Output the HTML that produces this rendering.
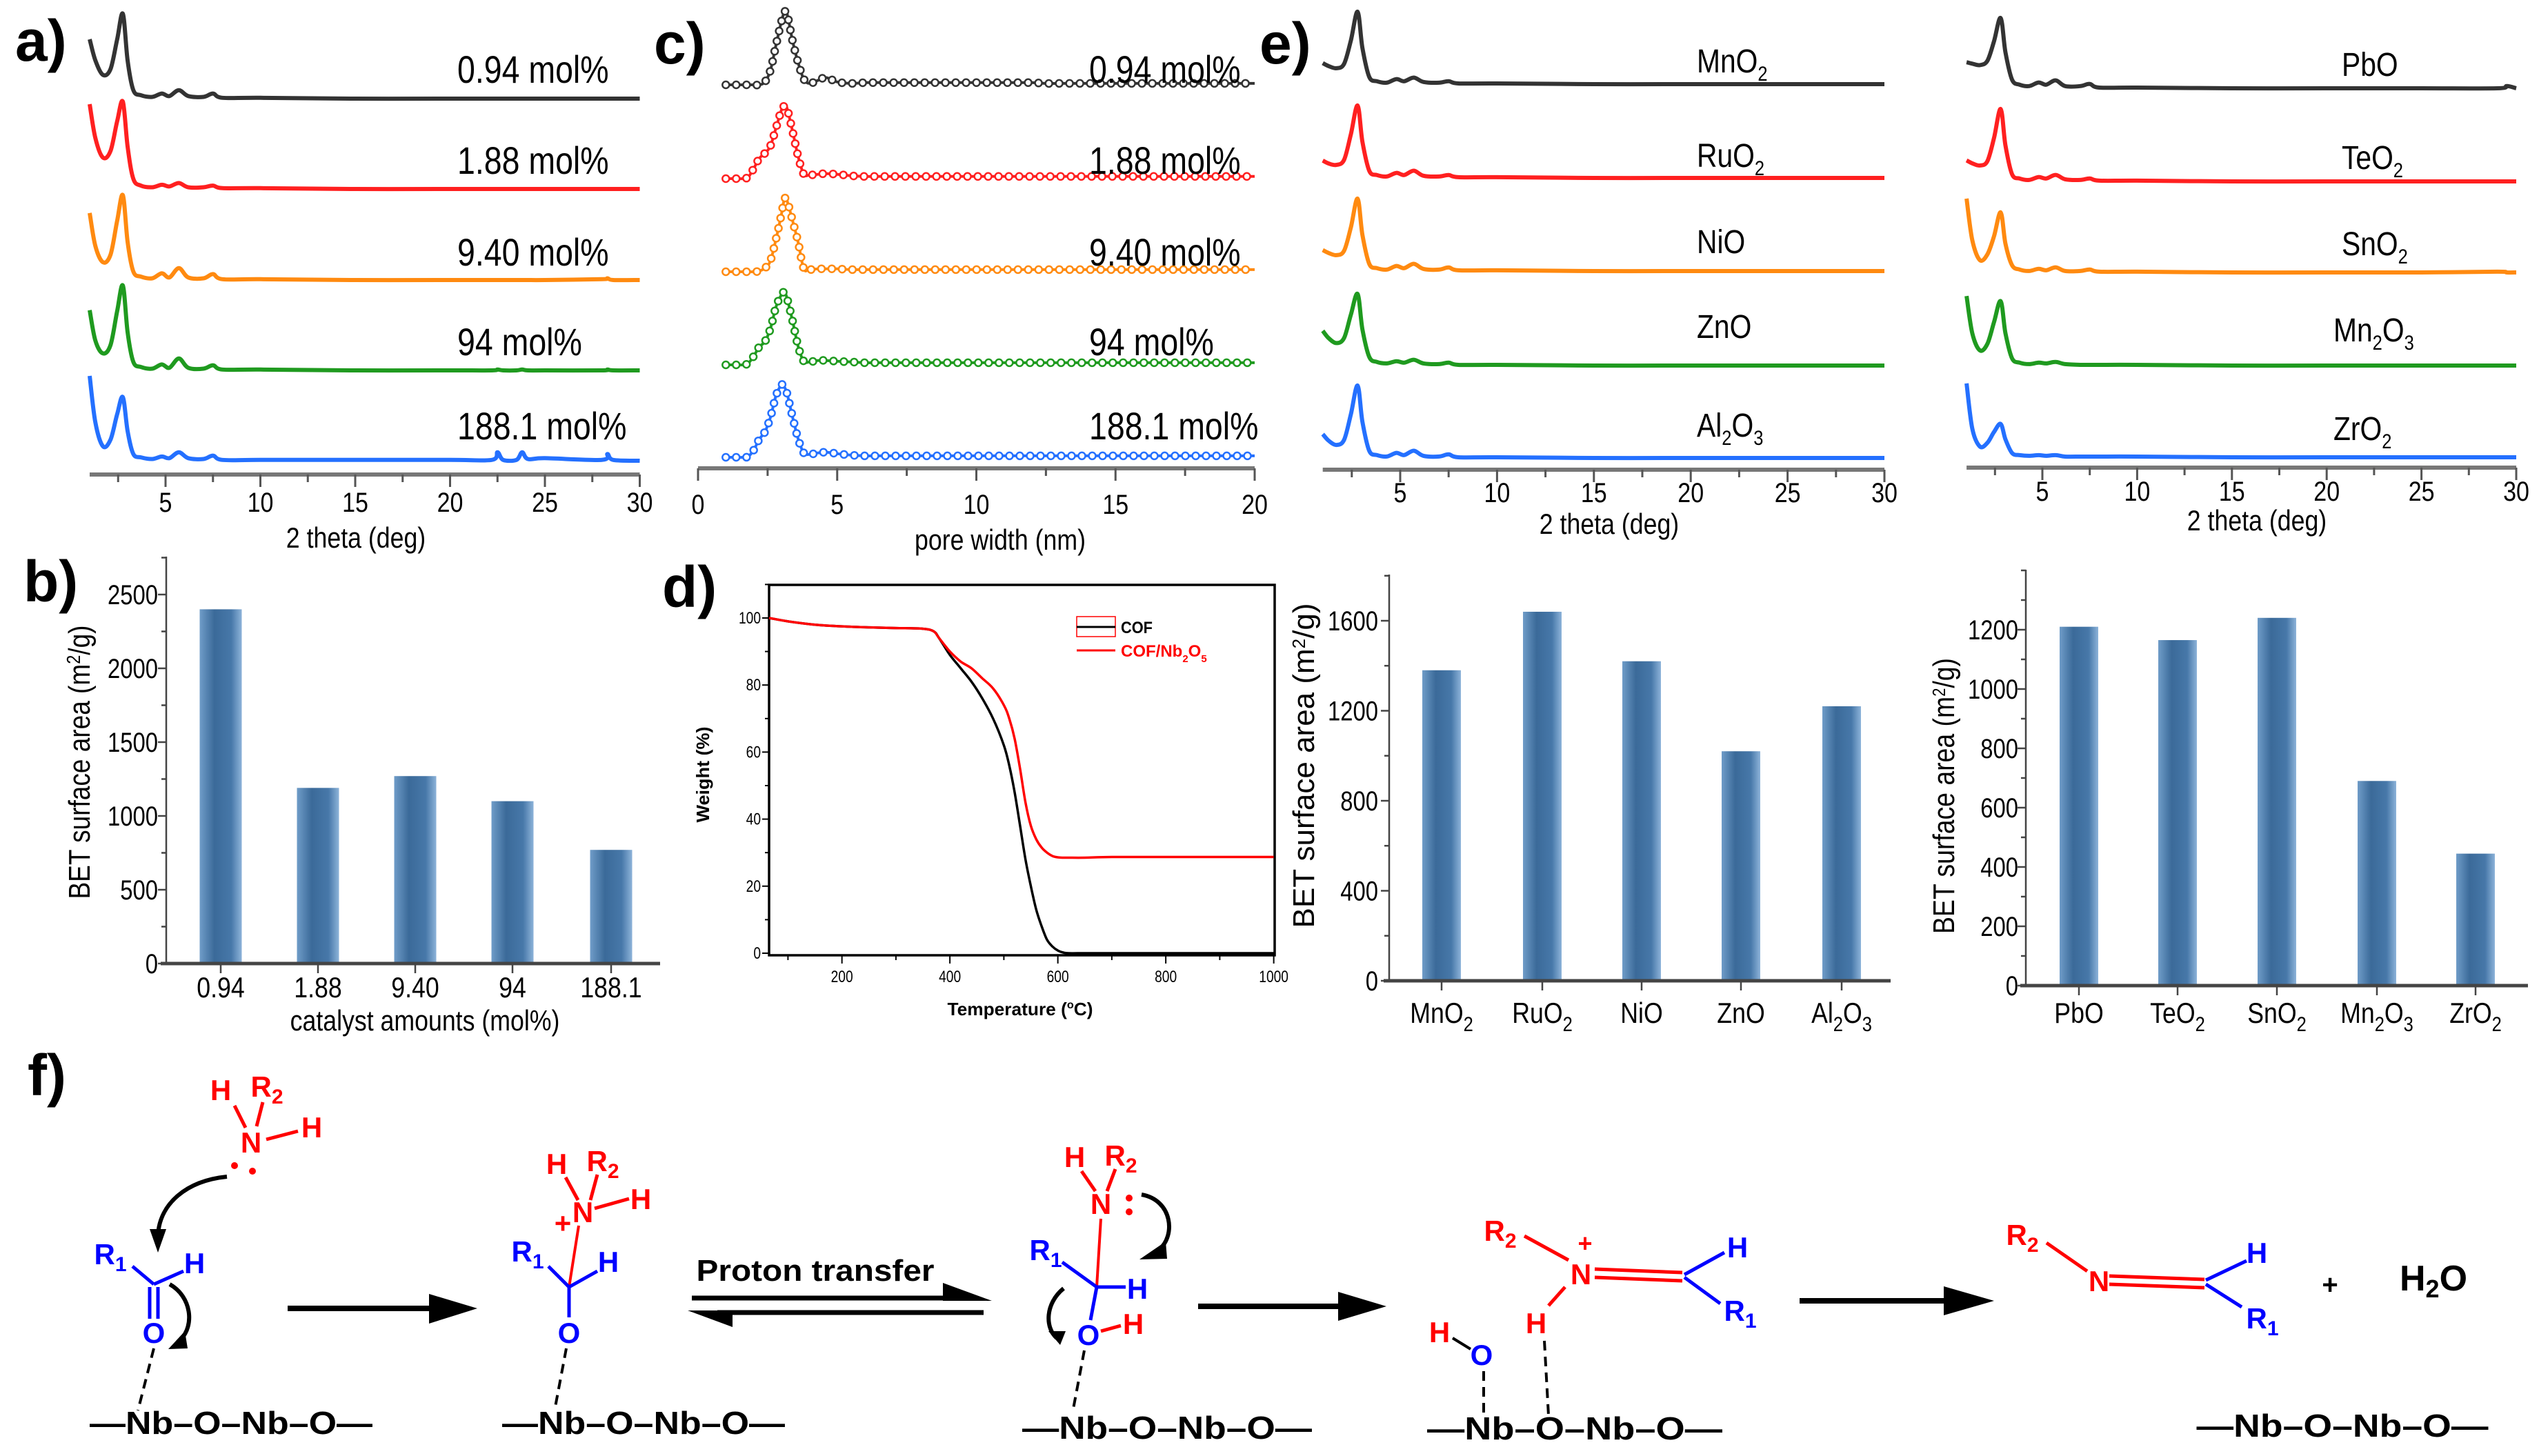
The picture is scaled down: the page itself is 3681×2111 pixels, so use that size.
<!DOCTYPE html>
<html><head><meta charset="utf-8"><style>html,body{margin:0;padding:0;background:#fff}svg{display:block}</style></head>
<body>
<svg id="fig" xmlns="http://www.w3.org/2000/svg" width="3681" height="2111" viewBox="0 0 3681 2111" font-family="Liberation Sans, Arial, sans-serif">
<defs>
<linearGradient id="barGrad" x1="0" y1="0" x2="1" y2="0">
<stop offset="0" stop-color="#6f9cc8"/><stop offset="0.35" stop-color="#3b6a99"/><stop offset="0.75" stop-color="#4778a9"/><stop offset="1" stop-color="#8db3d9"/>
</linearGradient>
</defs>
<g font-weight="bold" font-size="84" fill="#000">
<text x="22" y="88">a)</text>
<text x="34" y="872">b)</text>
<text x="948" y="92">c)</text>
<text x="960" y="880">d)</text>
<text x="1826" y="92">e)</text>
<text x="40" y="1588">f)</text>
</g>

<g id="scheme" font-weight="bold">
<g font-size="46" fill="#000" text-anchor="middle">
<text x="335" y="2079" textLength="410" lengthAdjust="spacingAndGlyphs">—Nb–O–Nb–O—</text>
<text x="933" y="2079" textLength="410" lengthAdjust="spacingAndGlyphs">—Nb–O–Nb–O—</text>
<text x="1692" y="2086" textLength="420" lengthAdjust="spacingAndGlyphs">—Nb–O–Nb–O—</text>
<text x="2283" y="2087" textLength="428" lengthAdjust="spacingAndGlyphs">—Nb–O–Nb–O—</text>
<text x="3396" y="2083" textLength="423" lengthAdjust="spacingAndGlyphs">—Nb–O–Nb–O—</text>
</g>
<g stroke="#000" stroke-width="8" fill="#000">
<line x1="417" y1="1897" x2="630" y2="1897"/><polygon stroke="none" points="622,1876 692,1897 622,1919"/>
<line x1="1003" y1="1882" x2="1400" y2="1882" stroke-width="7"/><polygon stroke="none" points="1367,1860 1438,1886 1367,1886"/>
<line x1="1040" y1="1903" x2="1426" y2="1903" stroke-width="7"/><polygon stroke="none" points="997,1900 1062,1900 1062,1924"/>
<line x1="1737" y1="1894" x2="1950" y2="1894"/><polygon stroke="none" points="1940,1873 2010,1894 1940,1915"/>
<line x1="2609" y1="1886" x2="2825" y2="1886"/><polygon stroke="none" points="2818,1865 2891,1886 2818,1907"/>
</g>
<text x="1182" y="1857" font-size="44" text-anchor="middle" textLength="345" lengthAdjust="spacingAndGlyphs">Proton transfer</text>
<g stroke="#000" stroke-width="6" fill="none">
<path d="M329 1706 C270 1712 232 1745 229 1790"/>
<path d="M246 1862 C278 1880 282 1922 262 1942"/>
<path d="M1655 1732 C1700 1740 1705 1792 1680 1812"/>
<path d="M1542 1868 C1515 1890 1515 1925 1532 1940"/>
</g>
<g fill="#000">
<polygon points="217,1782 241,1782 229,1816"/>
<polygon points="268,1930 272,1955 244,1956"/>
<polygon points="1690,1800 1692,1825 1652,1826"/>
<polygon points="1520,1930 1545,1930 1537,1950"/>
</g>
<g stroke="#000" stroke-width="4" stroke-dasharray="14 9">
<line x1="223" y1="1955" x2="200" y2="2045"/>
<line x1="821" y1="1955" x2="804" y2="2045"/>
<line x1="1572" y1="1958" x2="1555" y2="2048"/>
<line x1="2151" y1="1988" x2="2151" y2="2048"/>
<line x1="2239" y1="1944" x2="2245" y2="2052"/>
</g>
<g stroke="#f00" stroke-width="5" fill="none">
<line x1="340" y1="1603" x2="356" y2="1635"/><line x1="381" y1="1598" x2="372" y2="1633"/><line x1="386" y1="1652" x2="432" y2="1640"/>
<line x1="820" y1="1707" x2="838" y2="1740"/><line x1="866" y1="1703" x2="856" y2="1740"/><line x1="862" y1="1752" x2="912" y2="1738"/>
<line x1="839" y1="1777" x2="825" y2="1866" stroke-width="4"/>
<line x1="1568" y1="1698" x2="1588" y2="1727"/><line x1="1617" y1="1695" x2="1605" y2="1727"/>
<line x1="1596" y1="1767" x2="1590" y2="1866" stroke-width="4"/>
<line x1="1596" y1="1930" x2="1625" y2="1922"/>
<line x1="2210" y1="1792" x2="2274" y2="1827"/>
<line x1="2312" y1="1840" x2="2439" y2="1845"/><line x1="2312" y1="1852" x2="2439" y2="1857"/>
<line x1="2269" y1="1866" x2="2245" y2="1893"/>
<line x1="2967" y1="1802" x2="3026" y2="1843"/>
<line x1="3058" y1="1850" x2="3196" y2="1855"/><line x1="3058" y1="1862" x2="3196" y2="1867"/>
</g>
<g stroke="#00f" stroke-width="5" fill="none">
<line x1="192" y1="1836" x2="223" y2="1862"/><line x1="223" y1="1862" x2="266" y2="1843"/>
<line x1="217" y1="1866" x2="217" y2="1912"/><line x1="229" y1="1866" x2="229" y2="1912"/>
<line x1="795" y1="1836" x2="825" y2="1866"/><line x1="825" y1="1866" x2="866" y2="1843"/><line x1="825" y1="1866" x2="825" y2="1910"/>
<line x1="1540" y1="1830" x2="1590" y2="1866"/><line x1="1590" y1="1866" x2="1632" y2="1866"/><line x1="1590" y1="1866" x2="1581" y2="1914"/>
<line x1="2442" y1="1848" x2="2500" y2="1816"/><line x1="2442" y1="1852" x2="2494" y2="1890"/>
<line x1="3198" y1="1856" x2="3257" y2="1828"/><line x1="3198" y1="1862" x2="3250" y2="1895"/>
</g>
<line x1="2106" y1="1940" x2="2132" y2="1956" stroke="#000" stroke-width="4"/>
<g fill="#f00">
<circle cx="340" cy="1690" r="5"/><circle cx="366" cy="1698" r="5"/>
<circle cx="1637" cy="1737" r="5"/><circle cx="1637" cy="1757" r="5"/>
</g>
<g font-size="42" text-anchor="middle" fill="#f00">
<text x="320" y="1595">H</text><text x="387" y="1590">R<tspan font-size="30" dy="10">2</tspan></text><text x="452" y="1649">H</text><text x="364" y="1671">N</text>
<text x="807" y="1702">H</text><text x="874" y="1698">R<tspan font-size="30" dy="10">2</tspan></text><text x="929" y="1753">H</text><text x="845" y="1772">N</text><text x="816" y="1788">+</text>
<text x="1558" y="1692">H</text><text x="1625" y="1690">R<tspan font-size="30" dy="10">2</tspan></text><text x="1596" y="1760">N</text><text x="1643" y="1934">H</text>
<text x="2175" y="1799">R<tspan font-size="30" dy="10">2</tspan></text><text x="2298" y="1815" font-size="36">+</text><text x="2292" y="1862">N</text><text x="2227" y="1933">H</text><text x="2087" y="1946">H</text>
<text x="2932" y="1805">R<tspan font-size="30" dy="10">2</tspan></text><text x="3043" y="1872">N</text>
</g>
<g font-size="42" text-anchor="middle" fill="#00f">
<text x="160" y="1833">R<tspan font-size="30" dy="10">1</tspan></text><text x="282" y="1846">H</text><text x="223" y="1947">O</text>
<text x="765" y="1829">R<tspan font-size="30" dy="10">1</tspan></text><text x="882" y="1844">H</text><text x="825" y="1947">O</text>
<text x="1516" y="1827">R<tspan font-size="30" dy="10">1</tspan></text><text x="1649" y="1883">H</text><text x="1578" y="1950">O</text>
<text x="2519" y="1823">H</text><text x="2523" y="1915">R<tspan font-size="30" dy="10">1</tspan></text><text x="2148" y="1979">O</text>
<text x="3272" y="1831">H</text><text x="3280" y="1926">R<tspan font-size="30" dy="10">1</tspan></text>
</g>
<text x="3378" y="1876" font-size="40" text-anchor="middle">+</text>
<text x="3528" y="1871" font-size="52" text-anchor="middle">H<tspan font-size="36" dy="10">2</tspan><tspan dy="-10">O</tspan></text>
</g>
<g id="charts"></g>
</svg>
<script>
// ---------- data ----------
const aX = [1.0,1.3,1.7,2.1,2.45,2.75,3.0,3.3,3.7,4.3,4.8,5.2,5.7,6.2,7.0,7.5,8.0,10,15,20,22.2,22.5,22.8,23.5,23.8,24.1,25,28.0,28.3,28.6,30];
const aBlack  = [70,45,28,35,70,100,45,10,4,2,6,3,10,3,2,6,1,1,0,0,0,0,0,0,0,0,0,0,0,0,0];
const aRed    = [100,60,37,45,80,103,50,12,4,2,5,3,7,2,2,4,1,1,0,0,0,0,0,0,0,0,0,0,0,0,0];
const aOrange = [79,40,21,30,70,100,45,10,4,2,8,3,14,3,2,7,1,1,0,0,0,0,0,0,0,0,0,1,2,0,0];
const aGreen  = [71,35,20,30,70,100,45,10,4,2,7,3,14,3,2,6,1,1,0,0,0,1,0,0,1,0,0,0,1,0,0];
const aBlue   = [100,45,17,25,55,75,35,8,4,2,5,3,10,3,2,6,1,1,1,1,1,10,1,1,10,2,3,1,8,1,0];
const aLabels = ['0.94 mol%','1.88 mol%','9.40 mol%','94 mol%','188.1 mol%'];

const cX = [1.0,1.2,1.4,1.6,1.8,2.0,2.2,2.4,2.6,2.8,3.0,3.1,3.2,3.4,3.6,3.8,4.0,4.3,4.6,5.0,5.5,6.0,6.5,7.0,7.5,8.0,8.5,9.0,9.5,10,10.5,11,11.5,12,12.5,13,13.5,14,14.5,15,15.5,16,16.5,17,17.5,18,18.5,19,19.5,20];
const cBlack  = [0,0,0,0,0,0,0,4,20,55,88,100,98,60,30,8,2,6,10,4,2,3,3,3,3,3,3,3,3,3,3,3,3,3,2,2,2,2,2,2,2,2,2,2,2,2,2,2,2,2];
const cRed    = [0,0,0,0,2,14,28,35,45,70,95,100,97,65,30,6,5,6,7,6,4,3,3,3,3,3,3,3,3,3,3,3,3,3,3,3,3,3,3,3,3,3,3,3,3,3,3,3,3,3];
const cOrange = [0,0,0,0,0,0,1,5,15,45,80,100,98,70,40,4,3,4,4,4,3,3,3,3,3,3,3,3,3,3,3,3,3,3,3,3,3,3,3,3,3,3,3,3,3,3,3,3,3,3];
const cGreen  = [0,0,0,0,2,12,25,32,50,80,97,100,92,60,25,5,4,6,6,5,4,3,3,3,3,3,3,3,3,3,3,3,3,3,3,3,3,3,3,3,3,3,3,3,3,3,3,3,3,3];
const cBlue   = [0,0,0,0,1,10,25,35,55,85,100,97,88,55,25,6,4,6,7,5,3,2,2,2,2,2,2,2,2,2,2,2,2,2,2,2,2,2,2,2,2,2,2,2,2,2,2,2,2,2];

const eX = [1.0,1.3,1.7,2.1,2.45,2.8,3.05,3.4,3.8,4.3,4.8,5.2,5.7,6.2,7.0,7.5,8.0,10,15,20,25,29,29.5,30];
const eMnO2  = [29,25,22,28,60,100,50,10,4,2,7,4,9,3,2,4,1,1,0,0,0,0,0,0];
const eRuO2  = [24,20,18,25,60,100,50,10,4,2,7,4,10,3,2,4,1,1,0,0,0,0,0,0];
const eNiO   = [29,25,22,28,60,100,50,10,4,2,7,4,10,3,2,5,1,1,0,0,0,0,0,0];
const eZnO   = [48,38,31,38,70,99,50,12,5,3,6,4,8,3,2,4,1,1,0,0,0,0,0,0];
const eAl2O3 = [33,24,18,25,60,100,50,10,4,2,7,4,10,3,2,5,1,1,0,0,0,0,0,0];
const ePbO   = [36,34,32,38,65,97,50,12,5,3,8,5,11,3,3,6,1,1,0,0,0,0,3,0];
const eTeO2  = [29,25,22,28,60,100,50,10,4,2,6,4,9,3,2,4,1,1,0,0,0,0,0,0];
const eSnO2  = [102,45,17,25,50,83,40,10,4,2,5,3,7,2,2,4,1,1,0,0,0,1,0,0];
const eMn2O3 = [96,45,21,30,60,89,45,10,4,2,4,3,5,2,1,1,1,1,0,0,0,0,0,0];
const eZrO2  = [102,40,15,20,35,46,25,6,3,2,3,2,3,1,1,1,1,1,0,0,0,0,0,0];
const eLeftLabels  = ['MnO<tspan font-size="30" dy="12">2</tspan>','RuO<tspan font-size="30" dy="12">2</tspan>','NiO','ZnO','Al<tspan font-size="30" dy="12">2</tspan><tspan dy="-12">O</tspan><tspan font-size="30" dy="12">3</tspan>'];
const eRightLabels = ['PbO','TeO<tspan font-size="30" dy="12">2</tspan>','SnO<tspan font-size="30" dy="12">2</tspan>','Mn<tspan font-size="30" dy="12">2</tspan><tspan dy="-12">O</tspan><tspan font-size="30" dy="12">3</tspan>','ZrO<tspan font-size="30" dy="12">2</tspan>'];

const bCats = ['0.94','1.88','9.40','94','188.1'];
const bVals = [2400,1190,1270,1100,770];
const bTicks = [0,500,1000,1500,2000,2500];

const dX = [65,100,150,200,250,300,350,370,380,400,420,440,460,480,500,510,520,530,540,550,560,570,580,590,600,610,620,650,700,800,900,1000];
const dCOF = [100,99,98,97.5,97.2,97,96.8,96,94,89,85,81,76,70,62,56,48,38,28,20,13,8,4,2,0.8,0.2,0,0,0,0,0,0];
const dCOFNb = [100,99,98,97.5,97.2,97,96.8,96,94,90,87,85,82,79,74,70,64,55,45,38,34,31.5,30,29,28.6,28.5,28.5,28.5,28.7,28.7,28.7,28.7];
const dXTicks = [200,400,600,800,1000];
const dYTicks = [0,20,40,60,80,100];

const fCatsL = ['MnO<tspan font-size="30" dy="12">2</tspan>','RuO<tspan font-size="30" dy="12">2</tspan>','NiO','ZnO','Al<tspan font-size="30" dy="12">2</tspan><tspan dy="-12">O</tspan><tspan font-size="30" dy="12">3</tspan>'];
const fValsL = [1380,1640,1420,1020,1220];
const fTicksL = [0,400,800,1200,1600];
const fCatsR = ['PbO','TeO<tspan font-size="30" dy="12">2</tspan>','SnO<tspan font-size="30" dy="12">2</tspan>','Mn<tspan font-size="30" dy="12">2</tspan><tspan dy="-12">O</tspan><tspan font-size="30" dy="12">3</tspan>','ZrO<tspan font-size="30" dy="12">2</tspan>'];
const fValsR = [1210,1165,1240,690,445];
const fTicksR = [0,200,400,600,800,1000,1200];

// ---------- helpers ----------
const NS = 'http://www.w3.org/2000/svg';
const root = document.getElementById('charts');
function mk(tag, attrs, parent) {
  const e = document.createElementNS(NS, tag);
  for (const k in attrs) e.setAttribute(k, attrs[k]);
  (parent || root).appendChild(e);
  return e;
}
function txt(parent, x, y, s, size, anchor, sx, rot) {
  const t = document.createElementNS(NS, 'text');
  t.setAttribute('transform', `translate(${x},${y})` + (rot ? ` rotate(${rot})` : '') + ` scale(${sx},1)`);
  t.setAttribute('font-size', size);
  t.setAttribute('text-anchor', anchor);
  t.innerHTML = s;
  parent.appendChild(t);
  return t;
}
function smooth(p) {
  let d = `M${p[0][0].toFixed(1)},${p[0][1].toFixed(1)}`;
  for (let i = 0; i < p.length - 1; i++) {
    const p0 = p[i - 1] || p[i], p1 = p[i], p2 = p[i + 1], p3 = p[i + 2] || p2;
    const c1x = p1[0] + (p2[0] - p0[0]) / 6, c1y = p1[1] + (p2[1] - p0[1]) / 6;
    const c2x = p2[0] - (p3[0] - p1[0]) / 6, c2y = p2[1] - (p3[1] - p1[1]) / 6;
    d += ` C${c1x.toFixed(1)},${c1y.toFixed(1)} ${c2x.toFixed(1)},${c2y.toFixed(1)} ${p2[0].toFixed(1)},${p2[1].toFixed(1)}`;
  }
  return d;
}
const COLORS = ['#333333', '#ff2020', '#ff8a10', '#1f9a1f', '#2470ff'];

function xrdPanel(name, xs, series, bases, sc, xmap, markers) {
  const g = mk('g', {});
  
  
  series.forEach((vals, si) => {
    const pts = xs.map((v, i) => [xmap(v), bases[si] - vals[i] * sc]);
    const p = mk('path', { d: smooth(pts), fill: 'none', stroke: COLORS[si], 'stroke-width': markers ? 4 : 6, 'stroke-linejoin': 'round' }, g);
    
    
    if (markers) {
      const L = p.getTotalLength();
      for (let s = 0; s <= L; s += 15) {
        const q = p.getPointAtLength(s);
        const c = mk('circle', { cx: q.x.toFixed(1), cy: q.y.toFixed(1), r: 5, fill: '#fff', stroke: COLORS[si], 'stroke-width': 2.5 }, g);
        
        
      }
    }
  });
  return g;
}
function xAxisLine(g, name, xmap, y, from, to, step, majorEvery, labels, labY, title, titleX, titleY) {
  const ax = mk('g', {}, g);
  
  
  mk('line', { x1: xmap(from), y1: y, x2: xmap(to), y2: y, stroke: '#777', 'stroke-width': 6 }, ax);
  for (let v = 0; v <= to + 1e-6; v += step) {
    if (v < from - 1e-6) continue;
    const major = Math.abs(v / majorEvery - Math.round(v / majorEvery)) < 1e-6;
    mk('line', { x1: xmap(v), y1: y, x2: xmap(v), y2: y + (major ? 18 : 11), stroke: '#555', 'stroke-width': 3 }, ax);
  }
  labels.forEach(v => {
    const t = txt(ax, xmap(v), labY, String(v), 40, 'middle', 0.85);
    
    
  });
  const tt = txt(ax, titleX, titleY, title, 42, 'middle', 0.85);
  
  
}

// ---------- panel a ----------
const ax_a = v => 130 + (v - 1) * 27.5;
const gA = xrdPanel('panel-a-xrd', aX, [aBlack, aRed, aOrange, aGreen, aBlue], [143, 274, 406, 537, 668], 1.23, ax_a, false);
[120, 252, 385, 515, 637].forEach((y, i) => {
  const t = txt(gA, 663, y, aLabels[i], 56, 'start', 0.83);
  
  
});
xAxisLine(gA, 'panel-a-x-axis', ax_a, 688, 1, 30, 2.5, 5, [5, 10, 15, 20, 25, 30], 742, '2 theta (deg)', 516, 794);

// ---------- panel c ----------
const ax_c = v => 1012 + v * 40.35;
const gC = xrdPanel('panel-c-pore', cX, [cBlack, cRed, cOrange, cGreen, cBlue], [123, 259, 394, 529, 663], 1.05, ax_c, true);
[120, 252, 385, 515, 637].forEach((y, i) => {
  const t = txt(gC, 1579, y, aLabels[i], 56, 'start', 0.83);
  
  
});
xAxisLine(gC, 'panel-c-x-axis', ax_c, 679, 0, 20, 2.5, 5, [0, 5, 10, 15, 20], 745, 'pore width (nm)', 1450, 797);

// ---------- panel e top ----------
const ax_eL = v => 2030 + (v - 5) * 28.08;
const gEL = xrdPanel('panel-e-xrd-left', eX, [eMnO2, eRuO2, eNiO, eZnO, eAl2O3], [122, 258, 393, 530, 664], 1.05, ax_eL, false);
[105, 242, 367, 490, 633].forEach((y, i) => {
  const t = txt(gEL, 2460, y, eLeftLabels[i], 48, 'start', 0.85);
  
  
});
xAxisLine(gEL, 'panel-e-left-x-axis', ax_eL, 681, 1, 30, 2.5, 5, [5, 10, 15, 20, 25, 30], 728, '2 theta (deg)', 2333, 774);

const ax_eR = v => 2961 + (v - 5) * 27.48;
const gER = xrdPanel('panel-e-xrd-right', eX, [ePbO, eTeO2, eSnO2, eMn2O3, eZrO2], [128, 263, 395, 530, 663], 1.05, ax_eR, false);
[[3395, 110], [3395, 245], [3395, 370], [3383, 495], [3383, 638]].forEach((p, i) => {
  const t = txt(gER, p[0], p[1], eRightLabels[i], 48, 'start', 0.85);
  
  
});
xAxisLine(gER, 'panel-e-right-x-axis', ax_eR, 678, 1, 30, 2.5, 5, [5, 10, 15, 20, 25, 30], 726, '2 theta (deg)', 3272, 769);

// ---------- bar charts ----------
function barChart(name, cats, vals, ticks, minorStep, x0, x1, yTop, y0, pxPerUnit, centers, bw, labRight, catY, yTitle, yTitleX, yTitleY, yTitleLen, xTitle, xTitleX, xTitleY) {
  const g = mk('g', {});
  
  
  const ys = v => y0 - v * pxPerUnit;
  vals.forEach((v, i) => {
    const r = mk('rect', { x: centers[i] - bw / 2, y: ys(v), width: bw, height: y0 - ys(v), fill: 'url(#barGrad)' }, g);
    
    
  });
  const ya = mk('g', {}, g);
  
  
  mk('line', { x1: x0, y1: yTop, x2: x0, y2: y0, stroke: '#444', 'stroke-width': 2.5 }, ya);
  const maxT = (y0 - yTop) / pxPerUnit;
  for (let v = 0; v <= maxT; v += minorStep) {
    const major = ticks.indexOf(v) >= 0;
    mk('line', { x1: x0 - (major ? 12 : 7), y1: ys(v), x2: x0, y2: ys(v), stroke: '#444', 'stroke-width': 2.5 }, ya);
  }
  ticks.forEach(v => {
    const t = txt(ya, labRight, ys(v) + 14, String(v), 40, 'end', 0.82);
    
    
  });
  const yt = mk('text', { x: 0, y: 0, 'font-size': 44, 'text-anchor': 'middle', transform: `translate(${yTitleX},${yTitleY}) rotate(-90)`, textLength: yTitleLen, lengthAdjust: 'spacingAndGlyphs' }, ya);
  yt.innerHTML = yTitle;
  
  
  const xa = mk('g', {}, g);
  
  
  mk('line', { x1: x0 - 8, y1: y0, x2: x1, y2: y0, stroke: '#444', 'stroke-width': 5 }, xa);
  cats.forEach((c, i) => {
    mk('line', { x1: centers[i], y1: y0, x2: centers[i], y2: y0 + 14, stroke: '#444', 'stroke-width': 2.5 }, xa);
    const t = txt(xa, centers[i], catY, c, 42, 'middle', 0.85);
    
    
  });
  if (xTitle) {
    const t = txt(xa, xTitleX, xTitleY, xTitle, 42, 'middle', 0.85);
    
    
  }
}
barChart('panel-b-bet-bars', bCats, bVals, bTicks, 250, 241, 957, 807, 1397, 107 / 500, [320, 461, 602, 743, 886], 61, 229, 1446,
  'BET surface area (m<tspan font-size="28" dy="-14">2</tspan><tspan dy="14">/g)</tspan>', 130, 1105, 397, 'catalyst amounts (mol%)', 616, 1494);
barChart('panel-e-bet-bars-left', fCatsL, fValsL, fTicksL, 200, 2014, 2741, 833, 1422, 130.5 / 400, [2090, 2236, 2380, 2524, 2670], 56, 1998, 1483,
  'BET surface area (m<tspan font-size="26" dy="-13">2</tspan><tspan dy="13">/g)</tspan>', 1905, 1110, 471, null);
barChart('panel-e-bet-bars-right', fCatsR, fValsR, fTicksR, 100, 2937, 3665, 826, 1429, 0.43, [3014, 3157, 3301, 3446, 3589], 56, 2926, 1483,
  'BET surface area (m<tspan font-size="26" dy="-13">2</tspan><tspan dy="13">/g)</tspan>', 2833, 1154, 400, null);

// ---------- panel d TGA ----------
(function () {
  const g = mk('g', {});
  
  
  const xs = v => 1115 + (v - 65) * (156.5 / 200);
  const ys = v => 1382 - v * 4.86;
  const frame = mk('rect', { x: 1115, y: 848, width: 733, height: 537, fill: 'none', stroke: '#000', 'stroke-width': 3.5 }, g);
  
  
  for (let v = 100; v <= 1000; v += 100) mk('line', { x1: xs(v), y1: 1385, x2: xs(v), y2: 1385 + (v % 200 === 0 ? 12 : 7), stroke: '#000', 'stroke-width': 2 }, g);
  for (let v = 0; v <= 110; v += 10) mk('line', { x1: 1115, y1: ys(v), x2: 1115 - (v % 20 === 0 ? 10 : 6), y2: ys(v), stroke: '#000', 'stroke-width': 2 }, g);
  dXTicks.forEach(v => {
    const t = txt(g, xs(v), 1424, String(v), 24, 'middle', 0.8);
    
    
  });
  dYTicks.forEach(v => {
    const t = txt(g, 1103, ys(v) + 8, String(v), 24, 'end', 0.8);
    
    
  });
  const xt = mk('text', { x: 1479, y: 1472, 'font-size': 26, 'font-weight': 'bold', 'text-anchor': 'middle', textLength: 211, lengthAdjust: 'spacingAndGlyphs' }, g);
  xt.innerHTML = 'Temperature (<tspan font-size="16" dy="-10">o</tspan><tspan dy="10">C)</tspan>';
  
  
  const yt = mk('text', { x: 0, y: 0, 'font-size': 26, 'font-weight': 'bold', 'text-anchor': 'middle', transform: 'translate(1028,1123) rotate(-90)', textLength: 139, lengthAdjust: 'spacingAndGlyphs' }, g);
  yt.textContent = 'Weight (%)';
  
  
  const l1 = mk('path', { d: smooth(dX.map((v, i) => [xs(v), ys(dCOF[i])])), fill: 'none', stroke: '#000', 'stroke-width': 3.5 }, g);
  
  
  const l2 = mk('path', { d: smooth(dX.map((v, i) => [xs(v), ys(dCOFNb[i])])), fill: 'none', stroke: '#f00', 'stroke-width': 3.5 }, g);
  
  
  const lg = mk('g', {}, g);
  
  
  mk('rect', { x: 1561, y: 894, width: 56, height: 29, fill: 'none', stroke: '#f00', 'stroke-width': 1.5 }, lg);
  mk('line', { x1: 1561, y1: 909, x2: 1617, y2: 909, stroke: '#000', 'stroke-width': 3 }, lg);
  const t1 = mk('text', { x: 1625, y: 918, 'font-size': 24, 'font-weight': 'bold', textLength: 46, lengthAdjust: 'spacingAndGlyphs' }, lg);
  t1.textContent = 'COF';
  
  
  mk('line', { x1: 1561, y1: 943, x2: 1617, y2: 943, stroke: '#f00', 'stroke-width': 3 }, lg);
  const t2 = mk('text', { x: 1625, y: 952, 'font-size': 24, 'font-weight': 'bold', fill: '#f00' }, lg);
  t2.innerHTML = 'COF/Nb<tspan font-size="15" dy="8">2</tspan><tspan dy="-8">O</tspan><tspan font-size="15" dy="8">5</tspan>';
  
  
})();
</script>
</body></html>
